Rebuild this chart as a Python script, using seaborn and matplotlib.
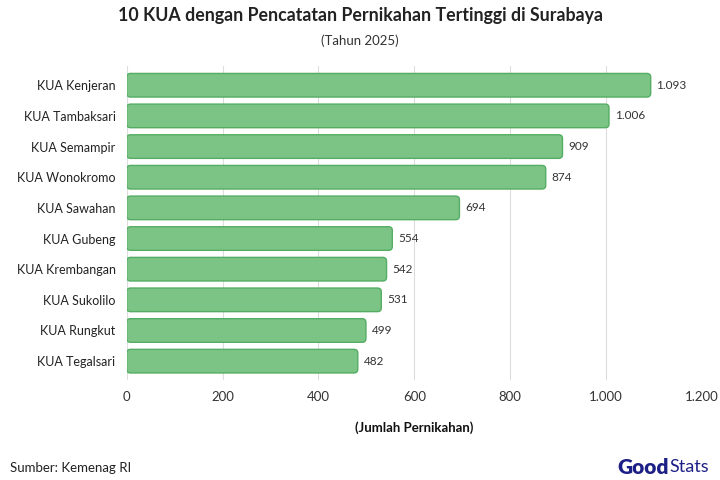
import matplotlib
matplotlib.use('Agg')
import matplotlib.pyplot as plt
from matplotlib.patches import FancyBboxPatch
from matplotlib.ticker import FuncFormatter
import seaborn as sns
import pandas as pd

# data
kua = ['KUA Kenjeran', 'KUA Tambaksari', 'KUA Semampir', 'KUA Wonokromo', 'KUA Sawahan',
       'KUA Gubeng', 'KUA Krembangan', 'KUA Sukolilo', 'KUA Rungkut', 'KUA Tegalsari']
jumlah = [1093, 1006, 909, 874, 694, 554, 542, 531, 499, 482]

df = pd.DataFrame({'KUA': kua, 'Jumlah': jumlah})

sns.set_theme(style='white')
plt.rcParams['font.family'] = ['Lato', 'DejaVu Sans']


def fmt_id(v, pos=None):
    return f'{int(v):,}'.replace(',', '.')


fig = plt.figure(figsize=(7.2, 4.8), dpi=100)
ax = fig.add_axes([0.176, 0.208, 0.799, 0.654])

sns.barplot(data=df, x='Jumlah', y='KUA', orient='h', color='#7bc485', width=0.77, ax=ax)

# swap bars for rounded ones
bar_color = '#7bc485'
edge_color = '#55ad63'
for p in list(ax.patches):
    x0, y0 = p.get_x(), p.get_y()
    w, h = p.get_width(), p.get_height()
    p.remove()
    box = FancyBboxPatch((x0, y0), w, h,
                         boxstyle='round,pad=0,rounding_size=8',
                         mutation_aspect=0.12 / 8, facecolor=bar_color,
                         edgecolor=edge_color, linewidth=1.0, zorder=3)
    ax.add_patch(box)

for i, v in enumerate(jumlah):
    ax.text(v + 12, i, fmt_id(v), va='center', ha='left', fontsize=8.5, color='#333333')

ax.set_xlim(0, 1200)
ax.set_ylim(9.62, -0.62)
ax.set_xticks(range(0, 1201, 200))
ax.xaxis.set_major_formatter(FuncFormatter(fmt_id))
ax.grid(axis='x', color='#dddddd', linewidth=0.8, zorder=0)
ax.set_axisbelow(True)
for s in ax.spines.values():
    s.set_visible(False)
ax.tick_params(axis='x', labelsize=9.5, colors='#333333', length=0, pad=8)
ax.tick_params(axis='y', labelsize=9, colors='#222222', length=0, pad=8)
ax.set_ylabel('')
ax.set_xlabel('(Jumlah Pernikahan)', fontsize=9.5, fontweight='bold', color='#111111', labelpad=13)

fig.text(0.5, 0.968, '10 KUA dengan Pencatatan Pernikahan Tertinggi di Surabaya',
         ha='center', va='center', fontsize=12.8, fontweight='bold', color='#222222')
fig.text(0.5, 0.915, '(Tahun 2025)', ha='center', va='center', fontsize=9.5, color='#333333')
fig.text(0.014, 0.025, 'Sumber: Kemenag RI', ha='left', va='center', fontsize=9.5, color='#222222')

# logo text
t_good = fig.text(0.857, 0.027, 'Good', ha='left', va='center', fontsize=15,
                  fontweight='heavy', color='#1c1f86')
fig.text(0.0, 0.0, '', alpha=0)
fig.canvas.draw()
ax.annotate('Stats', xy=(1, 0.5), xycoords=t_good, xytext=(0.5, 0), textcoords='offset points',
            ha='left', va='center', fontsize=13, color='#1c1f86', annotation_clip=False)

fig.savefig('out.png', dpi=100)
